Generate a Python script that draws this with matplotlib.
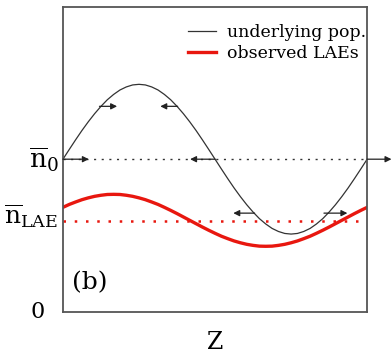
import matplotlib.pyplot as plt
from matplotlib.transforms import blended_transform_factory

# position along the box (fraction of Z range)
z = [k / 48 for k in range(49)]
# underlying population density (n0 = 1)
n_pop = [1.000, 1.064, 1.127, 1.188, 1.245, 1.298, 1.346, 1.389, 1.424, 1.453, 1.473, 1.486,
         1.490, 1.486, 1.473, 1.453, 1.424, 1.389, 1.346, 1.298, 1.245, 1.188, 1.127, 1.064,
         1.000, 0.936, 0.873, 0.812, 0.755, 0.702, 0.654, 0.611, 0.576, 0.547, 0.527, 0.514,
         0.510, 0.514, 0.527, 0.547, 0.576, 0.611, 0.654, 0.702, 0.755, 0.812, 0.873, 0.936,
         1.000]
# observed LAE density
n_lae = [0.685, 0.704, 0.720, 0.735, 0.747, 0.757, 0.764, 0.769, 0.770, 0.769, 0.764, 0.757,
         0.747, 0.735, 0.720, 0.704, 0.685, 0.665, 0.644, 0.622, 0.600, 0.578, 0.556, 0.535,
         0.515, 0.496, 0.480, 0.465, 0.453, 0.443, 0.436, 0.431, 0.430, 0.431, 0.436, 0.443,
         0.453, 0.465, 0.480, 0.496, 0.515, 0.535, 0.556, 0.578, 0.600, 0.622, 0.644, 0.665,
         0.685]
n0 = 1.0
n0_lae = 0.595

# arrows: (start z, start y, end z)
arrows = [(0.0, 1.0, 0.085), (0.12, 1.346, 0.178), (0.377, 1.346, 0.32),
          (0.5, 1.0, 0.418), (1.0, 1.0, 1.08), (0.63, 0.647, 0.56), (0.858, 0.647, 0.935)]

plt.rcParams['font.family'] = 'DejaVu Serif'
plt.rcParams['mathtext.fontset'] = 'dejavuserif'

fig = plt.figure(figsize=(3.91, 3.58), dpi=100)
ax = fig.add_axes([0.161, 0.1285, 0.778, 0.8515])

ax.plot(z, n_pop, color='#333333', lw=0.9, label='underlying pop.')
ax.plot(z, n_lae, color='#e8170f', lw=2.4, label='observed LAEs')
ax.plot([0, 1], [n0, n0], color='#333333', lw=1.0, ls=(0, (1.5, 4)))
ax.plot([0, 1], [n0_lae, n0_lae], color='#e8170f', lw=1.8, ls=(0, (1, 3.5)))

for x0, y0, x1 in arrows:
    ax.annotate('', xy=(x1, y0), xytext=(x0, y0), annotation_clip=False,
                arrowprops=dict(arrowstyle='-|>', color='#222222', lw=0.9,
                                mutation_scale=9, shrinkA=0, shrinkB=0))

ax.set_xlim(0, 1)
ax.set_ylim(0, 1.995)
ax.set_xticks([])
ax.set_yticks([])
for sp in ax.spines.values():
    sp.set_color('#555555')
    sp.set_linewidth(1.3)

tr = blended_transform_factory(ax.transAxes, ax.transData)
ax.text(-0.015, n0, r'$\overline{\mathrm{n}}_0$', transform=tr, ha='right', va='center', fontsize=19)
ax.text(-0.015, n0_lae + 0.03, r'$\overline{\mathrm{n}}_{\mathrm{LAE}}$', transform=tr, ha='right', va='center', fontsize=18)
ax.text(-0.06, 0, '0', transform=tr, ha='right', va='center', fontsize=16)
ax.text(0.03, 0.097, '(b)', transform=ax.transAxes, ha='left', va='center', fontsize=18)
ax.set_xlabel('Z', fontsize=17, labelpad=14)

ax.legend(loc='upper right', bbox_to_anchor=(1.035, 0.985), frameon=False, fontsize=12.5,
          handlelength=1.6, handletextpad=0.6, labelspacing=0.25, borderaxespad=0.3)

fig.savefig('out.png', dpi=100)
